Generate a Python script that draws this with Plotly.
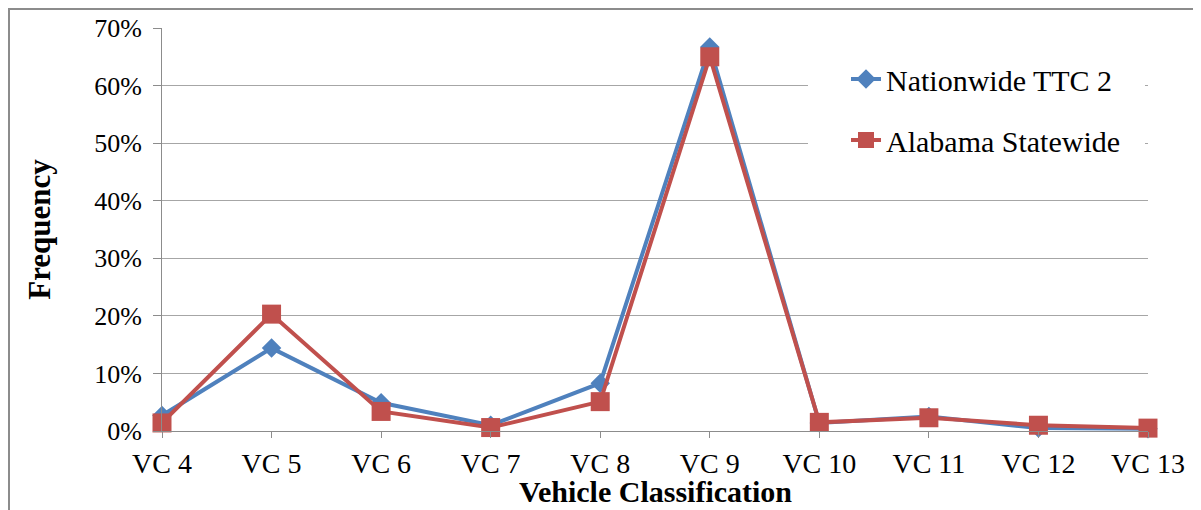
import plotly.graph_objects as go

categories = ["VC 4", "VC 5", "VC 6", "VC 7", "VC 8", "VC 9", "VC 10", "VC 11", "VC 12", "VC 13"]
nationwide_ttc2 = [0.027, 0.144, 0.049, 0.010, 0.083, 0.667, 0.014, 0.025, 0.005, 0.004]
alabama_statewide = [0.014, 0.203, 0.034, 0.006, 0.051, 0.650, 0.015, 0.023, 0.010, 0.005]
y_ticks = [0, 0.1, 0.2, 0.3, 0.4, 0.5, 0.6, 0.7]
y_tick_labels = ["0%", "10%", "20%", "30%", "40%", "50%", "60%", "70%"]

BLUE = "#4F81BD"
RED = "#C0504D"
FONT = '"Times New Roman", "Liberation Serif", serif'

x = list(range(len(categories)))

# page has an 8px body margin: figure origin sits at page (8, 8)
W, H = 1193, 502
L, R, T, B = 154, 53, 20, 79
PW = W - L - R   # plot spans page x 162..1148
PH = H - T - B   # plot spans page y 28..431


def px(page_x):
    return (page_x - 162) / PW


def py(page_y):
    return (431 - page_y) / PH


fig = go.Figure()
fig.add_trace(go.Scatter(
    x=x, y=nationwide_ttc2, name="Nationwide TTC 2", mode="lines+markers",
    line=dict(color=BLUE, width=4),
    marker=dict(symbol="diamond", size=15, color=BLUE),
    cliponaxis=False, legendgroup="a",
))
fig.add_trace(go.Scatter(
    x=x, y=alabama_statewide, name="Alabama Statewide", mode="lines+markers",
    line=dict(color=RED, width=4),
    marker=dict(symbol="square", size=19, color=RED),
    cliponaxis=False, legendgroup="b",
))

fig.update_layout(
    width=W, height=H,
    margin=dict(l=L, r=R, t=T, b=B, autoexpand=False),
    paper_bgcolor="white", plot_bgcolor="white",
    font=dict(family=FONT, size=24, color="black"),
    showlegend=True,
    legend=dict(
        x=px(846), y=py(53), xanchor="left", yanchor="top",
        bgcolor="rgba(0,0,0,0)", font=dict(family=FONT, size=30, color="black"),
        tracegroupgap=19, traceorder="grouped",
    ),
    xaxis=dict(
        range=[0, 9], tickvals=x, ticktext=categories,
        showgrid=False, zeroline=False, automargin=False,
        showline=True, linecolor="#8C8C8C", linewidth=1,
        ticks="outside", ticklen=6, tickcolor="#8C8C8C",
        ticklabelstandoff=1,
        tickfont=dict(family=FONT, size=28, color="black"),
    ),
    yaxis=dict(
        range=[0, 0.7], tickvals=y_ticks, ticktext=y_tick_labels,
        showgrid=True, gridcolor="#A6A6A6", gridwidth=1,
        zeroline=False, automargin=False,
        showline=True, linecolor="#8C8C8C", linewidth=1,
        ticks="outside", ticklen=8, tickcolor="#8C8C8C",
        ticklabelstandoff=6,
        tickfont=dict(family=FONT, size=26, color="black"),
        title=dict(text="<b>Frequency</b>", standoff=34,
                   font=dict(family=FONT, size=31, color="black")),
    ),
    annotations=[dict(
        text="<b>Vehicle Classification</b>", xref="paper", yref="paper",
        x=0.5, y=py(491), xanchor="center", yanchor="middle",
        showarrow=False, font=dict(family=FONT, size=30, color="black"),
    )],
    shapes=[
        dict(
            type="rect", xref="paper", yref="paper",
            x0=px(9), x1=1.2, y0=-0.4, y1=py(9),
            line=dict(color="#8C8C8C", width=2), fillcolor="rgba(0,0,0,0)",
            layer="below",
        ),
        dict(
            type="rect", xref="paper", yref="paper",
            x0=px(808), x1=px(1145),
            y0=py(178), y1=py(45),
            line=dict(width=0), fillcolor="white", layer="above",
        ),
    ],
)

fig.write_html("out.html")
